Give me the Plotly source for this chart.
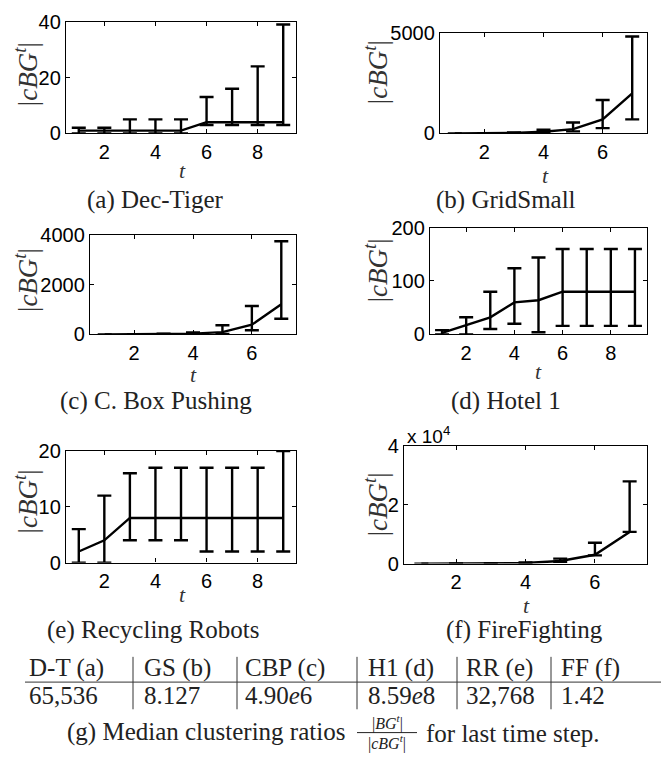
import plotly.graph_objects as go

W, H = 672, 764

# ---------------- data ----------------
t9 = [1, 2, 3, 4, 5, 6, 7, 8, 9]
t7 = [1, 2, 3, 4, 5, 6, 7]

dt_med = [1, 1, 1, 1, 1, 4, 4, 4, 4]
dt_lo = [0, 0, 0, 0, 0, 3, 3, 3, 3]
dt_hi = [2, 2, 5, 5, 5, 13, 16, 24, 39]

gs_med = [1, 4, 20, 80, 210, 700, 2000]
gs_lo = [1, 1, 5, 30, 100, 260, 700]
gs_hi = [2, 10, 50, 180, 540, 1670, 4840]

cbp_med = [1, 3, 10, 30, 90, 390, 1215]
cbp_lo = [1, 1, 3, 10, 20, 170, 630]
cbp_hi = [2, 8, 25, 80, 370, 1150, 3760]

h1_med = [3, 17, 32, 60, 64, 80, 80, 80, 80]
h1_lo = [0, 0, 10, 20, 4, 16, 16, 16, 16]
h1_hi = [8, 32, 80, 124, 144, 160, 160, 160, 160]

rr_med = [2, 4, 8, 8, 8, 8, 8, 8, 8]
rr_lo = [0, 0, 4, 4, 4, 2, 2, 2, 2]
rr_hi = [6, 12, 16, 17, 17, 17, 17, 17, 20]

ff_med = [5, 20, 60, 200, 900, 3000, 10800]
ff_lo = [2, 10, 30, 100, 600, 2800, 10800]
ff_hi = [10, 40, 150, 400, 1700, 7100, 28000]

panel_captions = ["(a) Dec-Tiger", "(b) GridSmall", "(c) C. Box Pushing",
                  "(d) Hotel 1", "(e) Recycling Robots", "(f) FireFighting"]
y_max = [40, 5000, 4000, 200, 20, 40000]
y_tickvals = [[0, 20, 40], [0, 5000], [0, 2000, 4000], [0, 100, 200], [0, 10, 20], [0, 20000, 40000]]
y_ticktext = [["0", "20", "40"], ["0", "5000"], ["0", "2000", "4000"], ["0", "100", "200"],
              ["0", "10", "20"], ["0", "2", "4"]]
x_ticks9 = [2, 4, 6, 8]
x_ticks7 = [2, 4, 6]

table_headers = ["D-T (a)", "GS (b)", "CBP (c)", "H1 (d)", "RR (e)", "FF (f)"]
table_values = ["65,536", "8.127", "4.90<i>e</i>6", "8.59<i>e</i>8", "32,768", "1.42"]

series = [
    (t9, dt_med, dt_lo, dt_hi),
    (t7, gs_med, gs_lo, gs_hi),
    (t7, cbp_med, cbp_lo, cbp_hi),
    (t9, h1_med, h1_lo, h1_hi),
    (t9, rr_med, rr_lo, rr_hi),
    (t7, ff_med, ff_lo, ff_hi),
]

# ---------------- layout (pixel boxes) ----------------
boxes = [(66, 11, 296, 126), (440, 23, 647, 126),
         (90, 231, 296, 333), (430, 223, 647, 333),
         (66, 453, 296, 568), (404, 448, 647, 569)]
ylab_pos = [(26, 65), (376, 63), (26, 277), (376, 267), (26, 505), (376, 508)]
xlab_pos = [(182, 164), (545, 169), (193, 374), (538, 371), (182, 601), (526, 612)]
cap_pos = [(155, 195), (506, 195), (156, 402), (506, 402), (153, 637), (524, 637)]


def px(x):
    return x / W


def py(y):
    return 1 - y / H


SERIF = "Liberation Serif"
SANS = "Liberation Sans"

fig = go.Figure()
layout = dict(width=W, height=H, margin=dict(l=0, r=0, t=0, b=0),
              paper_bgcolor="white", plot_bgcolor="white", showlegend=False)
annotations = []
shapes = []

for i, ((tt, med, lo, hi), box) in enumerate(zip(series, boxes)):
    k = "" if i == 0 else str(i + 1)
    fig.add_trace(go.Scatter(
        x=tt, y=med, mode="lines",
        line=dict(color="black", width=2.4),
        error_y=dict(type="data", symmetric=False,
                     array=[h - m for h, m in zip(hi, med)],
                     arrayminus=[m - l for m, l in zip(med, lo)],
                     color="black", thickness=2.4, width=7),
        xaxis="x" + k, yaxis="y" + k))
    x0, y0, x1, y1 = box
    nmax = max(tt)
    axcommon = dict(showline=True, linecolor="black", linewidth=1.3, mirror="ticks",
                    ticks="inside", ticklen=4, tickwidth=1, tickcolor="black",
                    showgrid=False, zeroline=False,
                    tickfont=dict(family=SANS, size=20, color="black"))
    layout["xaxis" + k] = dict(domain=[px(x0), px(x1)], range=[0.5, nmax + 0.5],
                               tickvals=x_ticks9 if nmax == 9 else x_ticks7,
                               anchor="y" + k, **axcommon)
    layout["yaxis" + k] = dict(domain=[py(y1), py(y0)], range=[0, y_max[i]],
                               tickvals=y_tickvals[i], ticktext=y_ticktext[i],
                               anchor="x" + k, **axcommon)
    lx, ly = ylab_pos[i]
    annotations.append(dict(x=px(lx), y=py(ly), xref="paper", yref="paper",
                            text="|<i>cBG</i><sup><i>t</i></sup>|", textangle=-90,
                            showarrow=False, xanchor="center", yanchor="middle",
                            font=dict(family=SERIF, size=27, color="#333")))
    tx, ty = xlab_pos[i]
    annotations.append(dict(x=px(tx), y=py(ty), xref="paper", yref="paper",
                            text="<i>t</i>", showarrow=False,
                            xanchor="center", yanchor="middle",
                            font=dict(family=SERIF, size=22, color="#333")))
    cx, cy = cap_pos[i]
    annotations.append(dict(x=px(cx), y=py(cy), xref="paper", yref="paper",
                            text=panel_captions[i], showarrow=False,
                            xanchor="center", yanchor="middle",
                            font=dict(family=SERIF, size=25, color="#222")))

# exponent label for FireFighting
annotations.append(dict(x=px(405), y=py(437), xref="paper", yref="paper",
                        text="x 10<sup>4</sup>", showarrow=False,
                        xanchor="left", yanchor="middle",
                        font=dict(family=SANS, size=19, color="black")))

# ---------------- table ----------------
col_x = [27, 142, 243, 366, 464, 559]
sep_x = [133, 237, 357, 457, 551]
for j in range(len(table_headers)):
    annotations.append(dict(x=px(col_x[j]), y=py(676), xref="paper", yref="paper",
                            text=table_headers[j], showarrow=False,
                            xanchor="left", yanchor="middle",
                            font=dict(family=SERIF, size=25, color="#222")))
    annotations.append(dict(x=px(col_x[j]), y=py(705), xref="paper", yref="paper",
                            text=table_values[j], showarrow=False,
                            xanchor="left", yanchor="middle",
                            font=dict(family=SERIF, size=25, color="#222")))
for sx in sep_x:
    shapes.append(dict(type="line", xref="paper", yref="paper",
                       x0=px(sx), x1=px(sx), y0=py(665), y1=py(719),
                       line=dict(color="#333", width=1)))
shapes.append(dict(type="line", xref="paper", yref="paper",
                   x0=px(25), x1=px(661), y0=py(691), y1=py(691),
                   line=dict(color="#333", width=1)))

# caption (g) with fraction
annotations.append(dict(x=px(347), y=py(742), xref="paper", yref="paper",
                        text="(g) Median clustering ratios", showarrow=False,
                        xanchor="right", yanchor="middle",
                        font=dict(family=SERIF, size=25, color="#222")))
annotations.append(dict(x=px(388), y=py(733), xref="paper", yref="paper",
                        text="|<i>BG</i><sup><i>t</i></sup>|", showarrow=False,
                        xanchor="center", yanchor="middle",
                        font=dict(family=SERIF, size=16, color="#222")))
annotations.append(dict(x=px(387), y=py(753), xref="paper", yref="paper",
                        text="|<i>cBG</i><sup><i>t</i></sup>|", showarrow=False,
                        xanchor="center", yanchor="middle",
                        font=dict(family=SERIF, size=16, color="#222")))
shapes.append(dict(type="line", xref="paper", yref="paper",
                   x0=px(357), x1=px(417), y0=py(743), y1=py(743),
                   line=dict(color="#222", width=1)))
annotations.append(dict(x=px(424), y=py(744), xref="paper", yref="paper",
                        text="for last time step.", showarrow=False,
                        xanchor="left", yanchor="middle",
                        font=dict(family=SERIF, size=25, color="#222")))

layout["annotations"] = annotations
layout["shapes"] = shapes
fig.update_layout(**layout)
fig.write_html("out.html", config={"displayModeBar": False},
               post_script="document.body.style.margin='0';document.body.style.overflow='hidden';")
